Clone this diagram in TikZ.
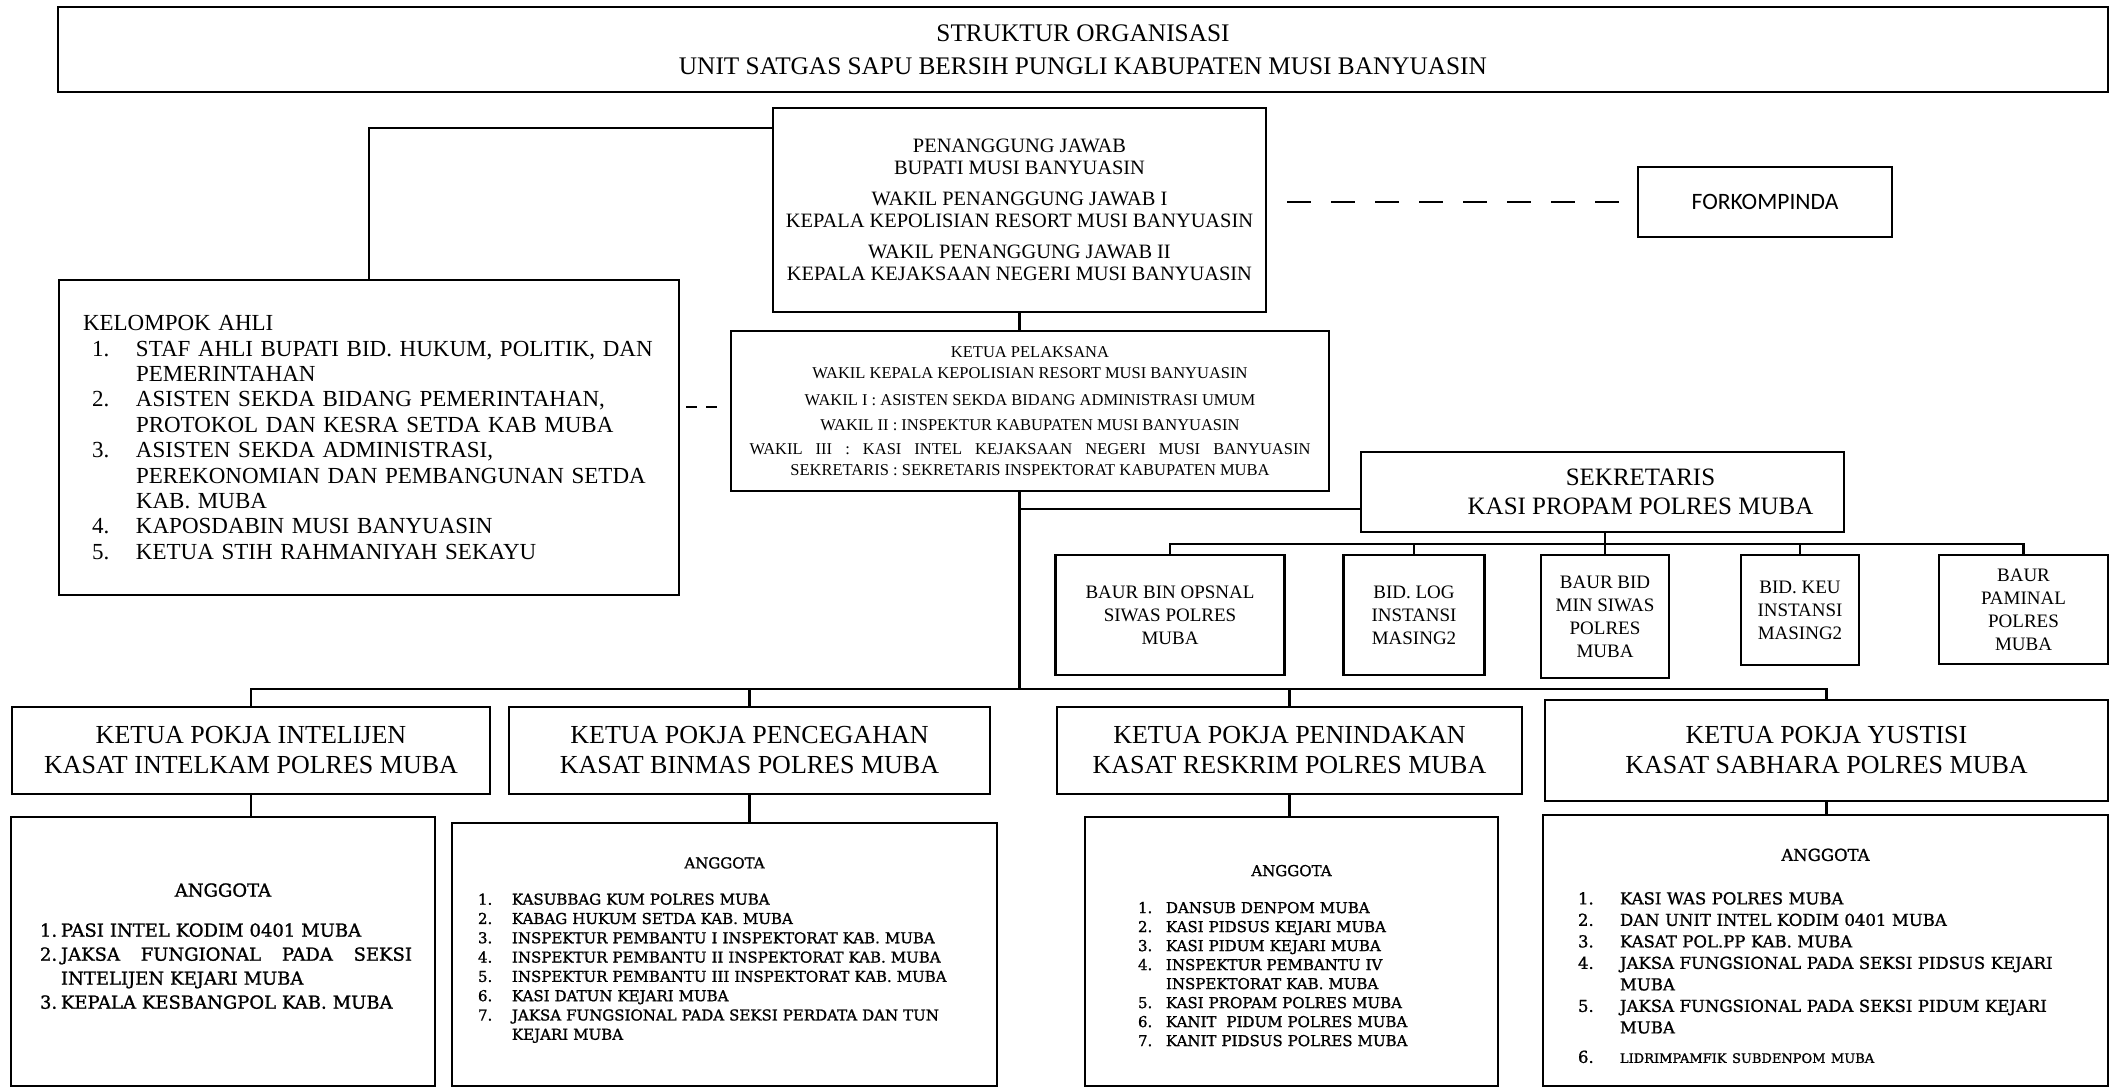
\documentclass[tikz,border=0pt]{standalone}
\usepackage{fontspec}
\setmainfont{Liberation Serif}
\newfontfamily\anggotafont{DejaVu Serif}[FakeBold=1.2]
\newfontfamily\forkfont{Carlito}
\usetikzlibrary{positioning}

\newcommand{\butir}[2]{\makebox[#1][l]{#2}}

\begin{document}
\begin{tikzpicture}[x=1pt, y=-1pt,
    box/.style={draw, line width=2.4pt, inner sep=0pt, align=center},
    daftar/.style={draw, line width=2.4pt, inner ysep=0pt, align=left},
    kecil/.style={box, font=\fontsize{19}{23}\selectfont},
    pokja/.style={box, font=\fontsize{26}{30}\selectfont},
    link/.style={line width=2.4pt},
    putus/.style={line width=2.4pt, dash pattern=on 24pt off 20pt, dash phase=24pt}]
  \useasboundingbox (0,0) rectangle (2111,1089);

  % Judul
  \node[box, minimum width=2050, minimum height=85, font=\fontsize{25.3}{33}\selectfont]
    (TT) at (1083,49.5) {STRUKTUR ORGANISASI\\UNIT SATGAS SAPU BERSIH PUNGLI KABUPATEN MUSI BANYUASIN};

  % Penanggung jawab, pelaksana, forkompinda
  \node[box, minimum width=493, minimum height=204, font=\fontsize{20.4}{22.5}\selectfont]
    (PJ) at (1019.5,210) {PENANGGUNG JAWAB\\BUPATI MUSI BANYUASIN\\[8pt]
      WAKIL PENANGGUNG JAWAB I\\KEPALA KEPOLISIAN RESORT MUSI BANYUASIN\\[8pt]
      WAKIL PENANGGUNG JAWAB II\\KEPALA KEJAKSAAN NEGERI MUSI BANYUASIN};
  \node[box, minimum width=254, minimum height=70, font=\forkfont\fontsize{23.5}{26}\selectfont]
    (FK) at (1765,202) {FORKOMPINDA};
  \node[box, minimum width=598, minimum height=160, font=\fontsize{16.5}{20.5}\selectfont]
    (KP) at (1030,411) {KETUA PELAKSANA\\WAKIL KEPALA KEPOLISIAN RESORT MUSI BANYUASIN\\[7pt]
      WAKIL I : ASISTEN SEKDA BIDANG ADMINISTRASI UMUM\\[4pt]
      WAKIL II : INSPEKTUR KABUPATEN MUSI BANYUASIN\\[4pt]
      \makebox[561pt][s]{WAKIL III : KASI INTEL KEJAKSAAN NEGERI MUSI BANYUASIN}\\
      SEKRETARIS : SEKRETARIS INSPEKTORAT KABUPATEN MUBA};

  % Kelompok ahli
  \node[daftar, inner xsep=24pt, text width=572pt, minimum height=315,
        font=\fontsize{23}{25.4}\selectfont] (KA) at (369,437.5) {KELOMPOK AHLI\\
      \hspace*{9pt}\butir{44pt}{1.}STAF AHLI BUPATI BID. HUKUM, POLITIK, DAN\\
      \hspace*{53pt}PEMERINTAHAN\\
      \hspace*{9pt}\butir{44pt}{2.}ASISTEN SEKDA BIDANG PEMERINTAHAN,\\
      \hspace*{53pt}PROTOKOL DAN KESRA SETDA KAB MUBA\\
      \hspace*{9pt}\butir{44pt}{3.}ASISTEN SEKDA ADMINISTRASI,\\
      \hspace*{53pt}PEREKONOMIAN DAN PEMBANGUNAN SETDA\\
      \hspace*{53pt}KAB. MUBA\\
      \hspace*{9pt}\butir{44pt}{4.}KAPOSDABIN MUSI BANYUASIN\\
      \hspace*{9pt}\butir{44pt}{5.}KETUA STIH RAHMANIYAH SEKAYU};

  % Sekretaris dan bagiannya
  \node[box, minimum width=483, minimum height=80, font=\fontsize{25}{29}\selectfont]
    (SK) at (1602.5,492) {\hspace*{76pt}SEKRETARIS\\\hspace*{76pt}KASI PROPAM POLRES MUBA};
  \node[kecil, minimum width=229, minimum height=120] (B1) at (1170,615) {BAUR BIN OPSNAL\\SIWAS POLRES\\MUBA};
  \node[kecil, minimum width=141, minimum height=120] (B2) at (1414,615) {BID. LOG\\INSTANSI\\MASING2};
  \node[kecil, minimum width=128, minimum height=123] (B3) at (1605,616.5) {BAUR BID\\MIN SIWAS\\POLRES\\MUBA};
  \node[kecil, minimum width=118, minimum height=110] (B4) at (1800,610) {BID. KEU\\INSTANSI\\MASING2};
  \node[kecil, minimum width=169, minimum height=109] (B5) at (2023.5,609.5) {BAUR\\PAMINAL\\POLRES\\MUBA};

  % Ketua pokja
  \node[pokja, minimum width=478, minimum height=87] (P1) at (251,750.5) {KETUA POKJA INTELIJEN\\KASAT INTELKAM POLRES MUBA};
  \node[pokja, minimum width=481, minimum height=87] (P2) at (749.5,750.5) {KETUA POKJA PENCEGAHAN\\KASAT BINMAS POLRES MUBA};
  \node[pokja, minimum width=465, minimum height=87] (P3) at (1289.5,750.5) {KETUA POKJA PENINDAKAN\\KASAT RESKRIM POLRES MUBA};
  \node[pokja, minimum width=563, minimum height=101] (P4) at (1826.5,750.5) {KETUA POKJA YUSTISI\\KASAT SABHARA POLRES MUBA};

  % Anggota
  \node[daftar, inner xsep=29pt, text width=366pt, minimum height=269,
        font=\anggotafont\fontsize{18}{24}\selectfont] (A1) at (223,951.5) {\makebox[366pt]{ANGGOTA}\\[16pt]
      \butir{21pt}{1.}PASI INTEL KODIM 0401 MUBA\\
      \butir{21pt}{2.}\makebox[351pt][s]{\spaceskip=0pt JAKSA FUNGIONAL PADA SEKSI}\\
      \hspace*{21pt}INTELIJEN KEJARI MUBA\\
      \butir{21pt}{3.}KEPALA KESBANGPOL KAB. MUBA\\[-13pt]\mbox{}};
  \node[daftar, inner xsep=26pt, text width=493pt, minimum height=263,
        font=\anggotafont\fontsize{15}{19.3}\selectfont] (A2) at (724.5,954.5) {\makebox[493pt]{ANGGOTA}\\[17pt]
      \butir{34pt}{1.}KASUBBAG KUM POLRES MUBA\\
      \butir{34pt}{2.}KABAG HUKUM SETDA KAB. MUBA\\
      \butir{34pt}{3.}INSPEKTUR PEMBANTU I INSPEKTORAT KAB. MUBA\\
      \butir{34pt}{4.}INSPEKTUR PEMBANTU II INSPEKTORAT KAB. MUBA\\
      \butir{34pt}{5.}INSPEKTUR PEMBANTU III INSPEKTORAT KAB. MUBA\\
      \butir{34pt}{6.}KASI DATUN KEJARI MUBA\\
      \butir{34pt}{7.}JAKSA FUNGSIONAL PADA SEKSI PERDATA DAN TUN\\
      \hspace*{34pt}KEJARI MUBA\\[-7.3pt]\mbox{}};
  \node[daftar, inner xsep=53pt, text width=307pt, minimum height=269,
        font=\anggotafont\fontsize{15}{19}\selectfont] (A3) at (1291.5,951.5) {\makebox[307pt]{ANGGOTA}\\[18pt]
      \butir{28pt}{1.}DANSUB DENPOM MUBA\\
      \butir{28pt}{2.}KASI PIDSUS KEJARI MUBA\\
      \butir{28pt}{3.}KASI PIDUM KEJARI MUBA\\
      \butir{28pt}{4.}INSPEKTUR PEMBANTU IV\\
      \hspace*{28pt}INSPEKTORAT KAB. MUBA\\
      \butir{28pt}{5.}KASI PROPAM POLRES MUBA\\
      \butir{28pt}{6.}KANIT\ \ PIDUM POLRES MUBA\\
      \butir{28pt}{7.}KANIT PIDSUS POLRES MUBA\\[-27pt]\mbox{}};
  \node[daftar, inner xsep=35pt, text width=495pt, minimum height=271,
        font=\anggotafont\fontsize{16.5}{21.5}\selectfont] (A4) at (1825.5,950.5) {\makebox[495pt]{ANGGOTA}\\[22pt]
      \butir{42pt}{1.}KASI WAS POLRES MUBA\\
      \butir{42pt}{2.}DAN UNIT INTEL KODIM 0401 MUBA\\
      \butir{42pt}{3.}KASAT POL.PP KAB. MUBA\\
      \butir{42pt}{4.}JAKSA FUNGSIONAL PADA SEKSI PIDSUS KEJARI\\
      \hspace*{42pt}MUBA\\
      \butir{42pt}{5.}JAKSA FUNGSIONAL PADA SEKSI PIDUM KEJARI\\
      \hspace*{42pt}MUBA\\[8pt]
      \butir{42pt}{6.}{\fontsize{13}{16}\selectfont LIDRIMPAMFIK SUBDENPOM MUBA}\\[-32pt]\mbox{}};

  % Garis penghubung
  \coordinate (jalur) at (0,689);
  \draw[link] (PJ.west |- 0,128) -| (KA.north);
  \draw[link] (PJ.south) -- (PJ.south |- KP.north);
  \draw[link] (PJ.south |- KP.south) -- (PJ.south |- jalur);
  \draw[link] (PJ.south |- 0,509) -- (SK.west |- 0,509);
  \draw[putus] (PJ.east |- FK.west) -- (FK.west);
  \draw[link, dash pattern=on 11pt off 9pt, dash phase=14pt, shorten >=8pt]
    (KA.east |- 0,407) -- (KP.west |- 0,407);
  \draw[link] (B1.north) -- (B1.north |- 0,544) -| (B5.north);
  \foreach \b in {B2,B4} \draw[link] (\b.north) -- (\b.north |- 0,544);
  \draw[link] (SK.south -| B3.north) -- (B3.north);
  \draw[link] (P1.north) -- (P1.north |- jalur) -| (P4.north);
  \foreach \p in {P2,P3} \draw[link] (\p.north) -- (\p.north |- jalur);
  \foreach \p/\a in {P1/A1,P2/A2,P3/A3,P4/A4} \draw[link] (\p.south) -- (\p.south |- \a.north);
\end{tikzpicture}
\end{document}
